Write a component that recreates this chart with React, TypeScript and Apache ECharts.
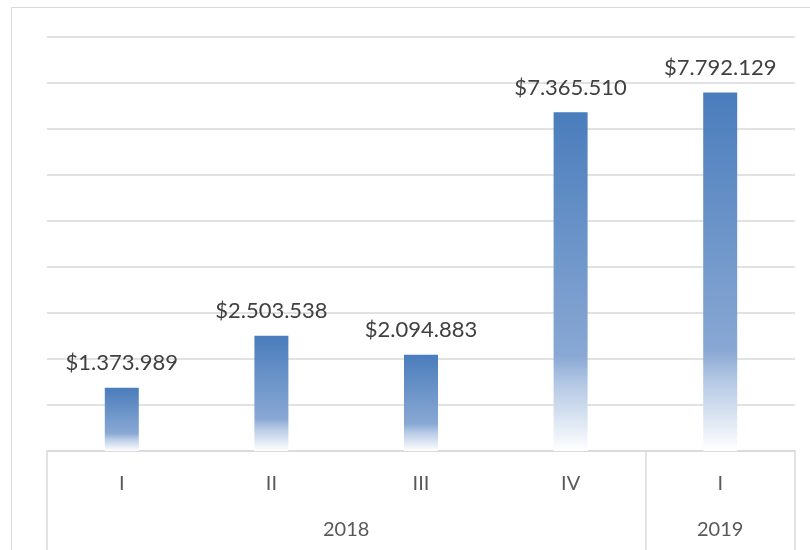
import React, { useEffect, useRef } from "react";
import * as echarts from "echarts";

const quarters = ["I", "II", "III", "IV", "I"];
const values = [1373989, 2503538, 2094883, 7365510, 7792129];
const yearLabels = ["2018", "2019"];
const yearCenters = [2, 4.5];
const yearBoundaries = [0, 4, 5];

const fmt = (v: number) =>
  "$" + String(Math.round(v)).replace(/\B(?=(\d{3})+(?!\d))/g, ".");

export default function App() {
  const ref = useRef<HTMLDivElement>(null);
  useEffect(() => {
    const chart = echarts.init(ref.current!, null, { renderer: "svg" });
    chart.setOption({
      animation: false,
      textStyle: { fontFamily: "Lato" },
      grid: { left: 47, right: 15, top: 37, bottom: 99 },
      graphic: [
        {
          type: "rect",
          shape: { x: 11.5, y: 7.5, width: 830, height: 600 },
          style: { fill: "none", stroke: "#d9d9d9", lineWidth: 1 },
          silent: true,
        },
      ],
      xAxis: [
        {
          type: "category",
          data: quarters,
          position: "bottom",
          axisLine: { show: true, lineStyle: { color: "#d9d9d9", width: 1.5 } },
          axisTick: { show: false },
          axisLabel: {
            color: "#595959",
            fontSize: 20,
            margin: 21,
            fontFamily: "Lato",
          },
        },
        {
          type: "value",
          min: 0,
          max: 5,
          position: "bottom",
          axisLine: { show: false },
          splitLine: { show: false },
          axisTick: {
            show: true,
            customValues: yearBoundaries,
            length: 120,
            lineStyle: { color: "#d9d9d9", width: 1.5 },
          },
          axisLabel: {
            show: true,
            customValues: yearCenters,
            formatter: (v: number) => {
              const i = yearCenters.indexOf(v);
              return i >= 0 ? yearLabels[i] : "";
            },
            color: "#595959",
            fontSize: 20,
            margin: 67,
            fontFamily: "Lato",
          },
        },
      ],
      yAxis: {
        type: "value",
        min: 0,
        max: 9000000,
        interval: 1000000,
        axisLabel: { show: false },
        axisLine: { show: false },
        axisTick: { show: false },
        splitLine: { lineStyle: { color: "#d9d9d9", width: 1.5 } },
      },
      series: [
        {
          type: "bar",
          xAxisIndex: 0,
          data: values,
          barWidth: 34,
          itemStyle: {
            color: new echarts.graphic.LinearGradient(0, 0, 0, 1, [
              { offset: 0, color: "#4a7dbc" },
              { offset: 0.72, color: "#89a8d4" },
              { offset: 0.8, color: "#b3c7e4" },
              { offset: 1, color: "#ffffff" },
            ]),
          },
          label: {
            show: true,
            position: "top",
            distance: 15,
            formatter: (p: any) => fmt(p.value),
            color: "#404040",
            fontSize: 22,
            fontFamily: "Lato",
          },
        },
      ],
    });
    return () => chart.dispose();
  }, []);
  return (
    <div
      ref={ref}
      style={{ position: "fixed", left: 0, top: 0, width: 810, height: 550 }}
    />
  );
}
